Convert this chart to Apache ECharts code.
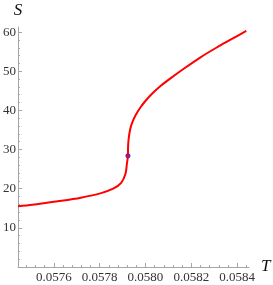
<!DOCTYPE html>
<html>
<head>
<meta charset="utf-8">
<script src="https://cdn.jsdelivr.net/npm/echarts@6/dist/echarts.min.js"></script>
<style>html,body{margin:0;padding:0;background:#fff}#c{width:273px;height:285px}</style>
</head>
<body>
<div id="c"></div>
<script>
// Curve data
const T = [0.057444, 0.057507, 0.057592, 0.057634, 0.057718, 0.057803, 0.057859, 0.057894, 0.057913, 0.057919, 0.0579236, 0.0579240, 0.0579262, 0.0579333, 0.0579430, 0.0579574, 0.0579785, 0.0579996, 0.0580274, 0.0580696, 0.0581118, 0.0581684, 0.0582384, 0.0583089, 0.0583793, 0.0584397];
const S = [15.5, 15.9, 16.6, 16.9, 17.7, 18.8, 20.0, 21.5, 23.8, 26.4, 28.4, 30.5, 32.5, 35.2, 37.0, 38.8, 40.8, 42.4, 44.2, 46.4, 48.3, 50.7, 53.5, 56.0, 58.3, 60.3];
const pointT = [0.0579236];
const pointS = [28.4];

// Ticks
const xMajorTicks = [0.0576, 0.0578, 0.0580, 0.0582, 0.0584];
const xMinorTicks = [0.05748, 0.05752, 0.05756, 0.05764, 0.05768, 0.05772, 0.05776, 0.05784, 0.05788, 0.05792, 0.05796, 0.05804, 0.05808, 0.05812, 0.05816, 0.05824, 0.05828, 0.05832, 0.05836, 0.05844];
const yMajorTicks = [10, 20, 30, 40, 50, 60];
const yMinorTicks = [2, 4, 6, 8, 12, 14, 16, 18, 22, 24, 26, 28, 32, 34, 36, 38, 42, 44, 46, 48, 52, 54, 56, 58];

const xMin = 0.057444, xMax = 0.058452, yMin = 0, yMax = 61.3;

const axisColor = '#a6a6a6';
const labelStyle = {color: '#333', fontFamily: 'Liberation Serif', fontSize: 13};
const nameStyle = {color: '#111', fontFamily: 'Liberation Serif', fontStyle: 'italic', fontSize: 17};

const chart = echarts.init(document.getElementById('c'), null, {renderer: 'canvas'});
chart.setOption({
  animation: false,
  backgroundColor: '#fff',
  grid: {left: 15, right: 19, top: 27, bottom: 18},
  xAxis: [{
    type: 'value', min: xMin, max: xMax, position: 'bottom',
    name: 'T', nameLocation: 'end', nameGap: 6, nameTextStyle: nameStyle,
    axisLine: {show: true, lineStyle: {color: axisColor, width: 1}},
    axisTick: {show: true, inside: true, length: 4, customValues: xMajorTicks, lineStyle: {color: axisColor}},
    axisLabel: {show: true, margin: 4, customValues: xMajorTicks, formatter: v => v.toFixed(4), ...labelStyle},
    splitLine: {show: false}
  }, {
    type: 'value', min: xMin, max: xMax, position: 'bottom',
    axisLine: {show: false},
    axisTick: {show: true, inside: true, length: 2, customValues: xMinorTicks, lineStyle: {color: axisColor}},
    axisLabel: {show: false},
    splitLine: {show: false}
  }],
  yAxis: [{
    type: 'value', min: yMin, max: yMax, position: 'left',
    name: 'S', nameLocation: 'end', nameGap: 8, nameTextStyle: nameStyle,
    axisLine: {show: true, lineStyle: {color: axisColor, width: 1}},
    axisTick: {show: true, inside: true, length: 4, customValues: yMajorTicks, lineStyle: {color: axisColor}},
    axisLabel: {show: true, margin: 2, customValues: yMajorTicks, ...labelStyle},
    splitLine: {show: false}
  }, {
    type: 'value', min: yMin, max: yMax, position: 'left',
    axisLine: {show: false},
    axisTick: {show: true, inside: true, length: 2, customValues: yMinorTicks, lineStyle: {color: axisColor}},
    axisLabel: {show: false},
    splitLine: {show: false}
  }],
  series: [{
    type: 'line', xAxisIndex: 0, yAxisIndex: 0,
    data: T.map((t, i) => [t, S[i]]),
    smooth: 0.3, showSymbol: false, symbol: 'none',
    lineStyle: {color: '#ff0000', width: 2}
  }, {
    type: 'scatter', xAxisIndex: 0, yAxisIndex: 0,
    data: pointT.map((t, i) => [t, pointS[i]]),
    symbol: 'circle', symbolSize: 5,
    itemStyle: {color: '#0000ff'}
  }]
});
</script>
</body>
</html>
